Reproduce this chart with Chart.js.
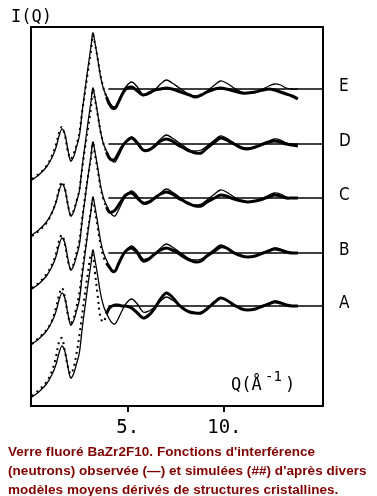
<!DOCTYPE html>
<html>
<head>
<meta charset="utf-8">
<script src="https://cdn.jsdelivr.net/npm/chart.js@4.4.1/dist/chart.umd.min.js"></script>
<style>
  html, body { margin: 0; padding: 0; background: #fff; }
  #wrap { position: relative; width: 377px; height: 496px; overflow: hidden; }
  #plot { position: absolute; left: 0; top: 0; }
  #caption {
    position: absolute; left: 8px; top: 442px; white-space: nowrap;
    font: bold 13.5px "Liberation Sans", Arial, sans-serif; letter-spacing: 0.05px;
    line-height: 19px; color: #800000;
  }
</style>
</head>
<body>
<div id="wrap">
  <canvas id="plot" width="377" height="445"></canvas>
  <div id="caption">Verre fluoré BaZr2F10. Fonctions d'interférence<br>(neutrons) observée (—) et simulées (##) d'après divers<br>modèles moyens dérivés de structures cristallines.</div>
</div>
<script>
// Q values (Å-1) shared by every curve
const qGrid = [0.05, 0.4, 0.8, 1.1, 1.3, 1.45, 1.6, 1.75, 1.9, 2.05,
               2.2, 2.35, 2.5, 2.65, 2.8, 2.95, 3.1, 3.2, 3.3, 3.45,
               3.6, 3.75, 3.9,
               4.05, 4.2, 4.35, 4.5, 4.7, 4.9, 5.2, 5.5, 5.8, 6.1,
               6.4, 6.7, 7.0, 7.3, 7.6, 7.9, 8.2, 8.5, 8.8, 9.1,
               9.5, 9.8, 10.1, 10.5, 10.9, 11.2, 11.6, 12.0, 12.3, 12.6,
               12.9, 13.2, 13.5, 13.8];
const splitIdx = 22;   // Q = 3.9 : dotted below, thick line above

const models    = ['A', 'B', 'C', 'D', 'E'];
const baselines = [100, 153, 208, 262, 317];   // vertical offset of each curve
const lineFromQ = 4.0;
const lineToQ   = 15.1;
const xTicks      = [5, 10];
const xTickLabels = ['5.', '10.'];

// observed I(Q), relative to the curve's baseline
const observed = [-91, -86, -78, -68, -58, -47, -40, -45, -60, -72,
                  -68, -58, -47, -22, 0, 22, 42, 56, 47, 30,
                  12, 0, -7,
                  -13, -17, -18, -13, -5, 2, 7, 2, -6, -5,
                  -1, 5, 9, 6, 2, -2, -6, -7, -6, -2,
                  4, 8, 6, 1, -3, -4, -3, 0, 3, 5,
                  4, 1, 0, 0];

// simulated I(Q) for each model
const simA = [-90, -84, -76, -64, -50, -36, -32, -45, -60, -68,
              -62, -48, -30, -8, 14, 34, 52, 50, 35, 10,
              -12, -16, -8,
              -2, 0, 1, 1, 0, 0, -2, -7, -12, -9,
              -2, 7, 13, 9, 2, -3, -6, -7, -7, -3,
              4, 8, 6, 1, -3, -4, -3, 0, 2, 4,
              3, 1, 0, 0];
const simB = [-91, -85, -77, -67, -54, -42, -35, -44, -61, -70,
              -65, -54, -40, -18, 4, 24, 42, 54, 43, 25,
              8, -4, -10,
              -14, -18, -18, -12, -4, 2, 5, 0, -8, -6,
              -1, 3, 5, 3, 0, -4, -7, -9, -8, -3,
              2, 6, 5, 0, -3, -4, -3, 0, 2, 4,
              3, 1, 0, 0];
const simC = [-90, -85, -76, -66, -55, -43, -37, -46, -62, -71,
              -66, -55, -43, -20, 2, 22, 40, 55, 44, 28,
              10, -2, -9,
              -14, -14, -12, -8, -2, 3, 5, 0, -5, -4,
              0, 4, 6, 4, 0, -3, -6, -8, -8, -4,
              0, 3, 2, -1, -3, -4, -3, -1, 1, 3,
              2, 0, 0, 0];
const simD = [-92, -87, -79, -68, -57, -45, -38, -44, -60, -71,
              -67, -57, -46, -24, -3, 16, 36, 55, 45, 29,
              12, 0, -8,
              -14, -16, -15, -10, -3, 2, 6, 1, -6, -6,
              -2, 3, 5, 3, -1, -4, -7, -9, -9, -4,
              2, 6, 4, 0, -4, -5, -3, 0, 2, 3,
              2, 0, -1, -2];
const simE = [-90, -85, -77, -66, -55, -44, -38, -46, -62, -70,
              -65, -56, -44, -22, -2, 18, 38, 54, 46, 30,
              13, 1, -8,
              -15, -19, -19, -14, -6, 0, 2, -2, -6, -4,
              -1, 0, 1, 0, -2, -4, -6, -8, -6, -3,
              0, 1, 0, -2, -4, -4, -3, -1, 0, -1,
              -3, -5, -7, -10];
const simulated = [simA, simB, simC, simD, simE];

const pts = (vals, base, from, to) =>
  qGrid.slice(from, to).map((q, k) => ({ x: q, y: base + vals[from + k] }));

const datasets = [];
models.forEach((m, i) => {
  const b = baselines[i];
  datasets.push({ label: m + ' base', data: [{ x: lineFromQ, y: b }, { x: lineToQ, y: b }],
    borderColor: '#000', borderWidth: 1.6, pointRadius: 0, tension: 0 });
  datasets.push({ label: m + ' obs', data: pts(observed, b, 0, qGrid.length),
    borderColor: '#000', borderWidth: 1.3, pointRadius: 0, tension: 0.35 });
  datasets.push({ label: m + ' sim dots', data: pts(simulated[i], b, 0, splitIdx + 1),
    borderColor: '#000', borderWidth: 2, borderDash: [2, 4], pointRadius: 0, tension: 0.35 });
  datasets.push({ label: m + ' sim', data: pts(simulated[i], b, splitIdx, qGrid.length),
    borderColor: '#000', borderWidth: 3, pointRadius: 0, tension: 0.35 });
});

const decor = {
  id: 'decor',
  afterDraw(chart) {
    const { ctx, chartArea: a, scales } = chart;
    ctx.save();
    ctx.strokeStyle = '#000';
    ctx.lineWidth = 2;
    ctx.strokeRect(a.left, a.top, a.right - a.left, a.bottom - a.top);

    ctx.fillStyle = '#000';
    ctx.textBaseline = 'alphabetic';
    ctx.font = '17px "DejaVu Sans Mono", monospace';
    ctx.fillText('I(Q)', 11, 22);

    // axis title inside the box
    ctx.fillText('Q(Å', 231, 390);
    ctx.font = '14px "DejaVu Sans Mono", monospace';
    ctx.fillText('-1', 265, 381);
    ctx.font = '17px "DejaVu Sans Mono", monospace';
    ctx.fillText(')', 285, 390);

    ctx.font = '17px "DejaVu Sans Condensed", "DejaVu Sans", sans-serif';
    models.forEach((m, i) => {
      const y = scales.y.getPixelForValue(baselines[i]);
      ctx.fillText(m, 339, y + 2);
    });
    ctx.restore();
  }
};

new Chart(document.getElementById('plot'), {
  type: 'line',
  data: { datasets },
  plugins: [decor],
  options: {
    responsive: false,
    animation: false,
    layout: { padding: { left: 31, right: 54, top: 27, bottom: 5 } },
    plugins: { legend: { display: false }, tooltip: { enabled: false } },
    scales: {
      x: {
        type: 'linear', min: 0, max: lineToQ,
        afterBuildTicks: s => { s.ticks = xTicks.map(v => ({ value: v })); },
        afterFit: s => { s.height = 34; },
        ticks: {
          callback: v => xTickLabels[xTicks.indexOf(v)],
          color: '#000', padding: 5, maxRotation: 0,
          font: { family: '"DejaVu Sans Mono", monospace', size: 19 }
        },
        grid: { drawOnChartArea: false, drawTicks: true, tickLength: 6, color: '#000', lineWidth: 2 },
        border: { display: false }
      },
      y: { display: false, min: 0, max: 379 }
    }
  }
});
</script>
</body>
</html>
